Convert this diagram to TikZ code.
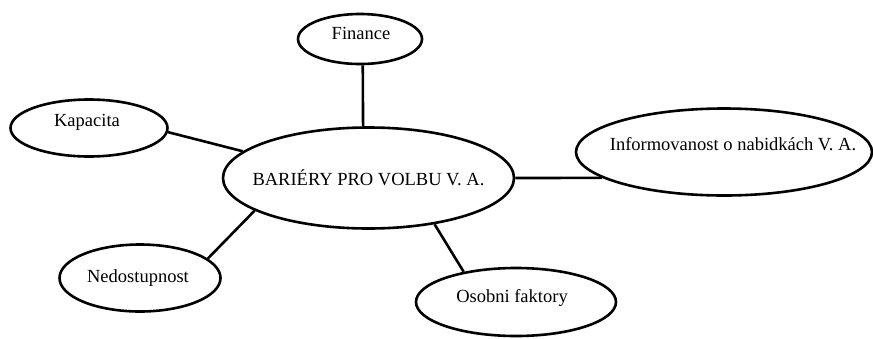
\documentclass[tikz,border=0pt]{standalone}
\usepackage{fontspec}
\setmainfont{Liberation Serif}
\newfontfamily\bubblefont{Liberation Serif}
\usetikzlibrary{shapes.geometric}

\begin{document}
\begin{tikzpicture}[
  x=1pt, y=-1pt,
  bubble/.style={ellipse, draw, line width=2.6pt, fill=white, inner sep=0pt},
  link/.style={line width=2.6pt},
  font=\bubblefont\fontsize{18.5}{22}\selectfont
]
\useasboundingbox (0,0) rectangle (873,338);

\node[bubble, minimum width=291pt, minimum height=101pt,
      label={center:BARIÉRY PRO VOLBU V. A.}] (bar) at (368.5,178) {};
\node[bubble, minimum width=124pt, minimum height=50pt,
      label={[xshift=1pt,yshift=6pt]center:Finance}] (fin) at (360,39) {};
\node[bubble, minimum width=157pt, minimum height=57pt,
      label={[xshift=-2pt,yshift=6pt]center:Kapacita}] (kap) at (89,128) {};
\node[bubble, minimum width=296pt, minimum height=87pt,
      label={[xshift=9pt,yshift=8pt]center:Informovanost o nabidkách V. A.}] (info) at (724,152) {};
\node[bubble, minimum width=161pt, minimum height=67pt,
      label={[xshift=-2pt]center:Nedostupnost}] (ned) at (140,278) {};
\node[bubble, minimum width=200pt, minimum height=68pt,
      label={[xshift=-4pt,yshift=4pt]center:Osobni faktory}] (oso) at (516,302) {};

\draw[link] (fin.-84) -- (bar.96);
\draw[link] (kap.-3) -- (bar.168);
\draw[link] (bar.0) -- (info.192);
\draw[link] (ned.16) -- (bar.196);
\draw[link] (bar.-35) -- (oso.150);
\end{tikzpicture}
\end{document}
